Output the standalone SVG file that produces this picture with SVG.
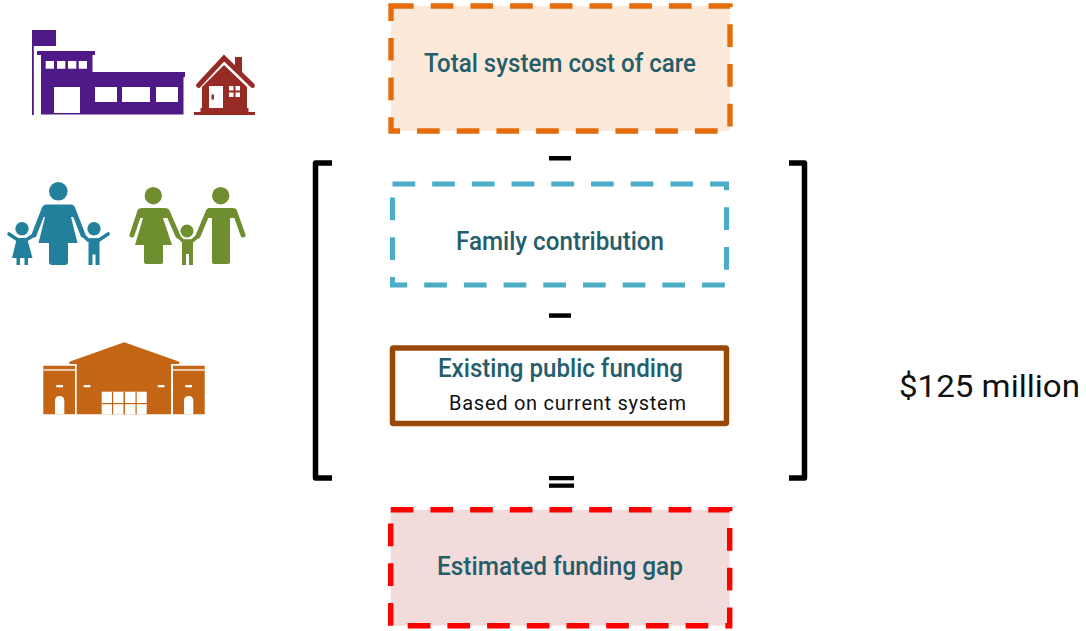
<svg xmlns="http://www.w3.org/2000/svg" width="1086" height="631" viewBox="0 0 1086 631">
<style>
.title{font-family:"Roboto","Liberation Sans",sans-serif;font-weight:500;font-size:25px;fill:#255E6B}
.sub{font-family:"Roboto","Liberation Sans",sans-serif;font-size:20px;fill:#111}
.amount{font-family:"Roboto","Liberation Sans",sans-serif;font-size:31px;fill:#111}
.dash{stroke-width:5.4;stroke-dasharray:22.7 17;fill:none}
.bracket{fill:none;stroke:#000;stroke-width:5.5;stroke-linejoin:round;stroke-linecap:butt}
.limb{fill:none;stroke-width:5;stroke-linecap:round;stroke-linejoin:round}
.thin{stroke-width:3.6}
.w{fill:#fff}
</style>
<rect width="1086" height="631" fill="#fff"/>

<g id="icon-school" fill="#4F1A87">
<rect x="32" y="30" width="24" height="16"/>
<rect x="32" y="30" width="1.8" height="85"/>
<path d="M37 51H95V55H92.500V72H185V77H183.500V114.500H41V55H37Z"/>
<g class="w"><rect x="45.700" y="61" width="8.300" height="7.700"/><rect x="57" y="61" width="8.300" height="7.700"/><rect x="68" y="61" width="8.300" height="7.700"/><rect x="78.700" y="61" width="8.300" height="7.700"/><rect x="54" y="87" width="26" height="26"/><rect x="95" y="87" width="22" height="15"/><rect x="122" y="87" width="28" height="15"/><rect x="156" y="87" width="22" height="15"/></g>
</g>

<g id="icon-house" fill="#962A25">
<path d="M235 57H242V72H235Z"/>
<path d="M202 87L224 65L247 87V108H248.500V112H255V115H194V112H200.500V108H202Z"/>
<path d="M198.500 85.500L224 58L252.500 85.500" fill="none" stroke="#962A25" stroke-width="4.800" stroke-linecap="round"/>
<rect class="w" x="209" y="86" width="14" height="22"/>
<rect x="211.500" y="94.500" width="2.500" height="5"/>
<g class="w"><rect x="229" y="86" width="4.500" height="4.500"/><rect x="235.500" y="86" width="4.500" height="4.500"/><rect x="229" y="92.500" width="4.500" height="4.500"/><rect x="235.500" y="92.500" width="4.500" height="4.500"/></g>
</g>

<g id="icon-family-single" fill="#23809D" stroke="#23809D">
<g stroke="none">
<circle cx="58.300" cy="191.300" r="9.300"/>
<path d="M46 204.500H71Q74 204.500 75 208L76 217H71L77.500 243H68V262Q68 265 65 265H52Q49 265 49 262V243H38.500L45 217H41L42.500 208Q43.500 204.500 46 204.500Z"/>
<circle cx="22" cy="228.700" r="6.700"/>
<path d="M17 238H27L32.500 258H28V265H24.500V258H20V265H16.500V258H12Z"/>
<circle cx="94" cy="228.700" r="6.700"/>
<path d="M88.500 238.500H99.500V265H95.500V254.500H92.500V265H88.500Z"/>
</g>
<path class="limb" d="M44.500 208L34 235"/>
<path class="limb" d="M72.500 208L83 235"/>
<path class="limb thin" d="M9 234L18 240H26L34 235"/>
<path class="limb thin" d="M108 234L99 240H88L83 235"/>
</g>

<g id="icon-family-couple" fill="#6F8E30" stroke="#6F8E30">
<g stroke="none">
<circle cx="153.300" cy="195.700" r="8.700"/>
<path d="M142 208H165Q167 208 168 210L170 218H163L172 245H163V262Q163 264 161 264H146Q144 264 144 262V245H135L143 218H137L139 210Q140 208 142 208Z"/>
<circle cx="187" cy="231" r="6.500"/>
<path d="M182 240.500H193V265H189V254H186V265H182Z"/>
<circle cx="220.700" cy="195.700" r="8.700"/>
<path d="M209 208H233Q235 208 236 210L238 218H230V262Q230 264 228 264H214Q212 264 212 262V218H205L207 210Q208 208 209 208Z"/>
</g>
<path class="limb" d="M140 211L132 235"/>
<path class="limb" d="M167 211L178 236"/>
<path class="limb" d="M234.500 211L243 235"/>
<path class="limb" d="M208.500 211L198 236"/>
<path class="limb thin" d="M178 236L183 241H192L198 236"/>
</g>

<g id="icon-community" fill="#C46516">
<path d="M124.300 342.300L179.300 361.700V364H171V414.300H76.700V364H69.300V361.700Z"/>
<path d="M43.300 365.700H75V414.300H43.300Z"/>
<path d="M173 365.700H204.700V414.300H173Z"/>
<g class="w">
<rect x="43.300" y="369.300" width="31.700" height="1.300"/><rect x="173" y="369.300" width="31.700" height="1.300"/>
<rect x="56.300" y="385" width="6.700" height="2.300"/><rect x="83.700" y="385" width="6.700" height="2.300"/><rect x="157.700" y="385" width="6.700" height="2.300"/><rect x="185.300" y="385" width="6.700" height="2.300"/>
<path d="M55 414.300V400.700Q55 396 59.700 396Q64.300 396 64.300 400.700V414.300Z"/>
<path d="M184 414.300V400.700Q184 396 188.700 396Q193.300 396 193.300 400.700V414.300Z"/>
<rect x="101.700" y="391.700" width="45" height="22.600"/>
</g>
<rect x="101.700" y="403" width="45" height="1.200"/>
<rect x="112" y="391.700" width="1.200" height="22.600"/><rect x="123.500" y="391.700" width="1.500" height="22.600"/><rect x="135.500" y="391.700" width="1.200" height="22.600"/>
</g>

<g id="node-total-cost">
<rect x="391" y="6" width="339" height="125" fill="#FDE9D9"/>
<rect class="dash" x="391" y="6" width="339" height="125" stroke="#E46C0A"/>
<text class="title" x="424" y="72" textLength="272" lengthAdjust="spacingAndGlyphs">Total system cost of care</text>
</g>

<g id="node-family-contribution">
<rect class="dash" x="392.500" y="184" width="334" height="101" stroke="#4BACC6" style="stroke-width:5"/>
<text class="title" x="456" y="250" textLength="208" lengthAdjust="spacingAndGlyphs">Family contribution</text>
</g>

<g id="node-public-funding">
<rect x="392.500" y="348" width="334" height="75.500" rx="1" fill="#fff" stroke="#974706" stroke-width="5.500"/>
<text class="title" x="438" y="377" textLength="245" lengthAdjust="spacingAndGlyphs">Existing public funding</text>
<text class="sub" x="449" y="410" textLength="237" lengthAdjust="spacing">Based on current system</text>
</g>

<g id="node-funding-gap">
<rect x="390.700" y="509.700" width="339" height="116" fill="#F2DCDB"/>
<rect class="dash" x="390.700" y="509.700" width="339" height="116" stroke="#FF0000"/>
<text class="title" x="437" y="575" textLength="246" lengthAdjust="spacingAndGlyphs">Estimated funding gap</text>
</g>

<g id="node-amount">
<text class="amount" x="899" y="397" textLength="181" lengthAdjust="spacingAndGlyphs">$125 million</text>
</g>

<g id="connectors">
<path class="bracket" d="M332 163H315.500V478H332"/>
<path class="bracket" d="M789 163H804.500V478H789"/>
<rect x="549" y="156" width="22" height="4.500"/>
<rect x="549" y="313.300" width="22" height="4.500"/>
<rect x="549" y="476" width="25" height="4.300"/>
<rect x="549" y="483.500" width="25" height="4.300"/>
</g>
</svg>
